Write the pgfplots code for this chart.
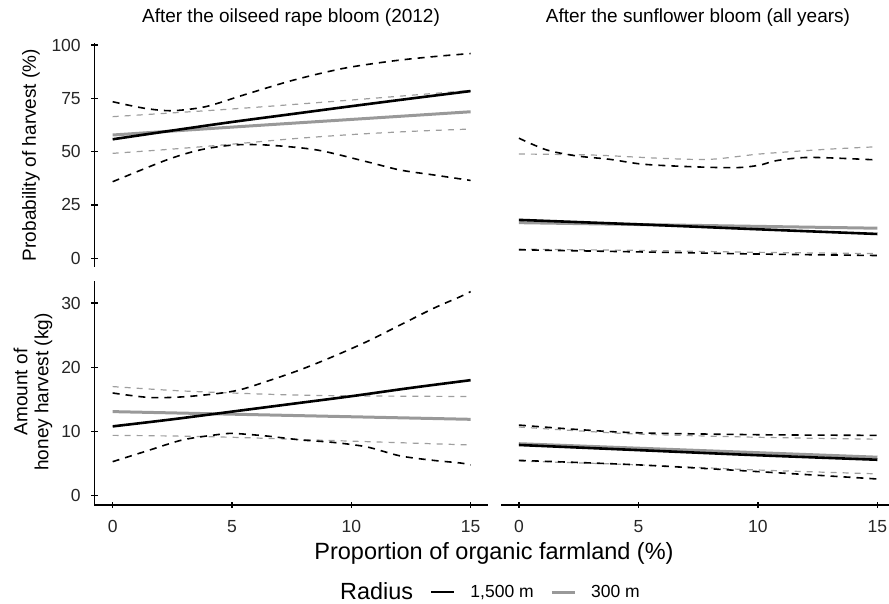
\documentclass[border=0pt]{standalone}
\usepackage{fontspec}
\setmainfont{Liberation Sans}
\usepackage{pgfplots}
\pgfplotsset{compat=1.18}
\definecolor{lgray}{gray}{0.6}
\definecolor{dgray}{gray}{0.62}
\newcommand{\legfont}{\fontsize{17.5}{18}\selectfont}
\pgfplotsset{
  panel/.style={scale only axis, clip=true,
     tick align=outside, major tick length=6.5pt,
     tick style={black, line width=1.4pt},
     /pgf/number format/assume math mode=true,
     tick label style={font=\fontsize{17.5}{18}\selectfont, text=black!85},
     yticklabel style={xshift=-6.8pt},
     xticklabel style={yshift=-9pt},
     xtick={0,5,10,15},
     xmin=-0.77, xmax=15.73,
  },
  noarrow/.style={axis line style={black, line width=1.4pt, -},
     every outer x axis line/.append style={-},
     every outer y axis line/.append style={-}},
  bs/.style={black, line width=2.6pt, smooth, forget plot},
  gs/.style={lgray, line width=3pt, smooth, forget plot},
  bd/.style={black, line width=1.6pt, dash pattern=on 7pt off 6pt, smooth, forget plot},
  gd/.style={dgray, line width=1.2pt, dash pattern=on 6pt off 6pt, smooth, forget plot},
}
\begin{document}
\begin{tikzpicture}
\useasboundingbox (0pt,0pt) rectangle (889pt,604pt);
% ---------- top left ----------
\begin{axis}[panel, at={(94.3pt,337pt)}, anchor=south west,
  width=393.7pt, height=223.7pt, ymin=-4.08, ymax=100.8,
  hide x axis, axis y line=left, noarrow, ytick={0,25,50,75,100}]
\addplot[gd] coordinates {(0,66.4) (5,70.0) (10,74.2) (15,78.7)};
\addplot[gd] coordinates {(0,49.2) (2.5,51.2) (5,53.5) (7.5,56.0) (10,58.0) (12.5,59.5) (15,60.6)};
\addplot[bd] coordinates {(0,73.4) (1.35,70.3) (2.5,69.2) (3.9,71.1) (5.5,76.6) (7.6,83.6) (9.7,89.1) (11.8,92.6) (13.5,94.6) (15,96.0)};
\addplot[bd] coordinates {(0,35.9) (2.26,46.1) (3.66,50.8) (5.05,53.1) (6.45,53.1) (8.55,50.8) (10.64,45.3) (12.04,41.4) (13.5,39.0) (15,36.5)};
\addplot[gs] coordinates {(0,57.8) (5,61.5) (10,65.1) (15,68.7)};
\addplot[bs] coordinates {(0,55.8) (2.5,59.9) (5,63.9) (7.5,67.6) (10,71.3) (12.5,74.9) (15,78.4)};
\end{axis}
% ---------- top right ----------
\begin{axis}[panel, at={(501pt,337pt)}, anchor=south west,
  width=393.9pt, height=223.7pt, xmin=-0.75, xmax=15.73, ymin=-4.08, ymax=100.8,
  hide axis]
\addplot[gd] coordinates {(0,48.9) (3.1,48.4) (5.9,46.9) (8.0,46.4) (10.08,48.9) (12.87,51.1) (15,52.3)};
\addplot[gd] coordinates {(0,4.3) (5,3.7) (10,2.8) (15,2.2)};
\addplot[bd] coordinates {(0,56.3) (1.16,50.8) (2.41,48.0) (3.8,46.4) (5.2,44.1) (7.29,42.9) (9.1,42.5) (10.08,43.7) (10.78,45.8) (12.18,47.3) (15,46.1)};
\addplot[bd] coordinates {(0,4.0) (5,3.0) (10,2.0) (15,1.3)};
\addplot[gs] coordinates {(0,16.7) (15,14.1)};
\addplot[bs] coordinates {(0,18.0) (5,15.9) (10,13.6) (15,11.4)};
\end{axis}
% ---------- bottom left ----------
\begin{axis}[panel, at={(94.3pt,99pt)}, anchor=south west,
  width=393.7pt, height=224.3pt, ymin=-1.45, ymax=33.5,
  axis lines=left, noarrow, ytick={0,10,20,30},
  legend columns=-1,
  legend style={at={(1.005,-0.388)}, anchor=center, draw=none, fill=none,
    inner sep=0pt, column sep=0pt, nodes={inner sep=0pt, font=\legfont}}]
\addlegendimage{empty legend}
\addlegendentry{\fontsize{23.4}{24}\selectfont Radius}
\addlegendimage{legend image code/.code={\path (0pt,0pt) (57pt,0pt); \draw[black, line width=2.6pt] (18pt,0pt) -- (41pt,0pt);}}
\addlegendentry{\legfont 1,500 m}
\addlegendimage{legend image code/.code={\path (0pt,0pt) (57pt,0pt); \draw[lgray, line width=3pt] (18pt,0pt) -- (41pt,0pt);}}
\addlegendentry{\legfont 300 m}
\addplot[gd] coordinates {(0,17.0) (2.5,16.4) (5,16.0) (7.5,15.7) (10,15.55) (12.5,15.5) (15,15.45)};
\addplot[gd] coordinates {(0,9.4) (2.5,9.3) (5,9.1) (7.5,8.8) (10,8.5) (12.5,8.2) (15,7.9)};
\addplot[bd] coordinates {(0,16.0) (1.54,15.3) (2.94,15.4) (4.36,15.9) (5.33,16.5) (6.45,17.8) (7.85,19.6) (9.25,21.7) (10.65,24.0) (12.05,26.6) (13.45,29.2) (14.56,31.0) (15,31.8)};
\addplot[bd] coordinates {(0,5.3) (1.54,7.1) (2.94,8.7) (4.36,9.5) (5.05,9.7) (6.45,9.3) (7.85,8.7) (9.25,8.3) (10.65,7.6) (12.05,6.2) (13.45,5.5) (14.56,5.1) (15,4.8)};
\addplot[gs] coordinates {(0,13.1) (5,12.7) (10,12.3) (15,11.9)};
\addplot[bs] coordinates {(0,10.8) (2.5,11.9) (5,13.1) (7.5,14.3) (10,15.5) (12.5,16.8) (15,18.0)};
\end{axis}
% ---------- bottom right ----------
\begin{axis}[panel, at={(501pt,99pt)}, anchor=south west,
  width=393.9pt, height=224.3pt, xmin=-0.75, xmax=15.73, ymin=-1.45, ymax=33.5,
  hide y axis, axis x line=bottom, noarrow]
\addplot[gd] coordinates {(0,10.7) (2.5,10.1) (5,9.6) (10,9.1) (15,8.8)};
\addplot[gd] coordinates {(0,5.4) (5,4.8) (10,4.0) (15,3.4)};
\addplot[bd] coordinates {(0,11.0) (2.5,10.3) (5,9.8) (10,9.5) (15,9.4)};
\addplot[bd] coordinates {(0,5.5) (5,4.8) (10,3.75) (15,2.6)};
\addplot[gs] coordinates {(0,8.1) (5,7.4) (10,6.7) (15,6.0)};
\addplot[bs] coordinates {(0,7.9) (5,7.1) (10,6.3) (15,5.6)};
\end{axis}
% ---------- titles and labels ----------
\node[font=\fontsize{19}{21}\selectfont] at (291pt,586pt) {After the oilseed rape bloom (2012)};
\node[font=\fontsize{19}{21}\selectfont] at (698pt,586pt) {After the sunflower bloom (all years)};
\node[font=\fontsize{19}{21}\selectfont, rotate=90] at (31pt,449pt) {Probability of harvest (\%)};
\node[font=\fontsize{19}{21}\selectfont, rotate=90, align=center] at (33pt,212pt) {Amount of\\honey harvest (kg)};
\node[font=\fontsize{23.5}{25}\selectfont] at (494pt,51pt) {Proportion of organic farmland (\%)};
\end{tikzpicture}
\end{document}
